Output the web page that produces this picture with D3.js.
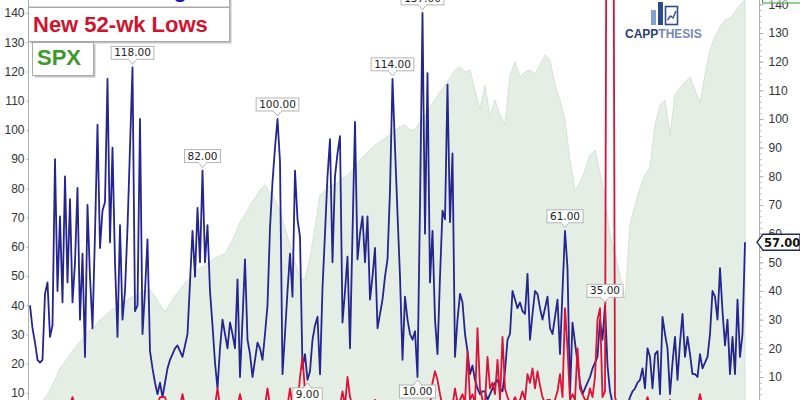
<!DOCTYPE html>
<html><head><meta charset="utf-8">
<script src="https://cdn.jsdelivr.net/npm/d3@7"></script>
<style>html,body{margin:0;padding:0;background:#fff;} svg{display:block;}</style>
</head><body><svg id="c" width="800" height="400"></svg>
<script>
// New 52-week highs (blue), one value per period
const highs = [
35,27,22,16,15,16,39,43,24,28, 86,40,66,36,80,43,72,36,50,76,
30,53,17,70,45,27,60,98,55,68, 71,114,57,90,50,24,63,30,40,62,
90,118,33,35,100,25,40,58,19,13, 8,4,8,3,8,13,16,18,20,21,
19,17,21,25,43,61,45,69,50,82, 50,63,40,28,15,6,20,30,25,20,
29,25,20,44,10,30,51,23,18,10, 16,22,20,16,25,35,62,78,90,100,
85,11,25,40,53,38,82,65,59,13, 18,9,12,23,28,31,11,41,60,80,
93,50,80,88,94,29,40,52,20,60, 99,51,60,66,50,66,37,45,55,27,
32,37,45,51,75,114,90,67,45,16, 38,30,25,23,26,10,70,137,60,116,
43,61,30,18,45,68,65,112,64,88, 17,30,39,36,25,19,11,14,9,6,
4,5,5,2,4,6,8,9,6,5, 12,23,25,40,37,34,36,33,32,46,
23,32,40,39,34,30,34,38,27,25, 31,37,18,40,61,48,4,29,22,15,
8,4,6,8,10,13,15,17,30,23, 35,14,5,1,0,0,0,0,0,0,
3,5,6,8,9,13,6,20,17,6, 18,19,4,31,25,20,4,15,24,9,
22,32,17,24,18,11,11,10,18,13, 15,17,25,40,38,30,48,33,21,30,
11,24,11,37,17,25,57
];
// New 52-week lows (red)
const lows = [
0,0,0,0,0,0,0,0,0,0, 0,0,0,0,0,0,0,3,0,0,
0,0,0,0,0,0,0,0,0,0, 0,0,0,0,0,0,0,0,0,0,
0,0,0,0,0,0,0,0,0,0, 0,0,3,3,3,0,0,0,0,0,
0,4,0,0,0,0,0,0,0,0, 0,0,0,0,0,6,0,0,0,0,
0,0,0,0,4,0,0,0,0,0, 0,0,0,0,0,6,0,0,0,0,
0,0,0,0,6,0,0,0,10,17, 5,0,0,0,0,0,0,0,0,0,
0,0,0,0,0,5,0,10,3,0, 0,0,0,0,0,0,0,0,2,0,
0,0,0,0,0,0,0,0,0,0, 0,0,0,0,0,0,0,0,0,0,
0,8,12,9,4,0,0,0,0,0, 6,1,2,4,1,19,2,4,1,27,
6,2,1,17,6,8,4,16,2,24, 6,3,1,1,3,1,2,5,2,11,
8,13,6,12,7,3,1,2,2,1, 2,5,11,3,34,20,2,4,2,20,
6,4,2,2,6,3,10,30,34,3, 5,300,320,290,3,0,0,0,0,0,
0,0,0,0,0,0,0,3,0,0, 0,0,0,0,0,0,2,0,0,0,
0,0,0,0,0,0,0,0,4,0, 0,0,0,0,0,0,0,0,0,0,
0,0,0,0,0,0,0
];
// SPX close (background area)
const spx = [
1810,1822,1838,1858,1890,1930,1978,2002,2030,2058,
2082,2106,2130,2146,2170,2186,2206,2218,2230,2242,
2258,2266,2278,2286,2290,2266,2230,2202,2234,2266,
2290,2318,2338,2362,2378,2390,2402,2418,2426,2434,
2470,2510,2562,2590,2630,2658,2690,2710,2682,2650,
2602,2538,2470,2402,2338,2330,2422,2538,2670,2690,
2710,2710,2730,2742,2758,2782,2810,2830,2850,2870,
2882,2898,2910,2930,2942,2950,2930,2930,2962,2990,
3022,3050,3082,3110,3138,3170,3182,3162,3170,3090,
3010,3110,2982,3050,2990,2950,3150,3202,3142,3162,
3170,3154,3190,3230,3210,3110,3050,2970,2810,2690,
2718,2770,2830,2850,2758,2650,2510,2430,2350,2250,
2550,2630,2698,2750,2782,2950,3030,3050,2910,3070,
3098,3122,3142,3090,3038,3150,3250,3302,3342,3370,
3378,3402,3430,3450
];
const leftTicks = [10,20,30,40,50,60,70,80,90,100,110,120,130,140];
const rightTicks = [10,20,30,40,50,60,70,80,90,100,110,120,130,140];
const peakIdx = [41,69,99,145,157,214,230];
const troughIdx = [111,155];
const legendNames = ["New 52-wk Highs","New 52-wk Lows","SPX"];

const svg = d3.select("#c");
const W = 800, H = 400;
const x = d3.scaleLinear().domain([0, highs.length-1]).range([30, 745]);
const xs = d3.scaleLinear().domain([0, spx.length-1]).range([30, 745]);
const yR = d3.scaleLinear().domain([10,140]).range([377, 4.3]);
const yL = d3.scaleLinear().domain([10,140]).range([393, 13]);
const yS = d3.scaleLinear().domain([1850,3450]).range([400, 0]);

// SPX area
svg.append("path").datum(spx)
  .attr("d", d3.area().x((d,i)=>xs(i)).y0(yS(1750)).y1(d=>yS(d)))
  .attr("fill","#e5eee5").attr("stroke","#d6e2d6").attr("stroke-width",1);

// lines
const line = d3.line().x((d,i)=>x(i)).y(d=>yR(d));
svg.append("path").datum(highs).attr("d", line)
  .attr("fill","none").attr("stroke","#25258f").attr("stroke-width",1.8).attr("stroke-linejoin","round");
svg.append("path").datum(lows).attr("d", line)
  .attr("fill","none").attr("stroke","#dc1238").attr("stroke-width",1.8).attr("stroke-linejoin","round");

// left axis
const gL = svg.append("g").attr("transform","translate(28.5,0)")
  .call(d3.axisLeft(yL).tickValues(leftTicks).tickSize(2).tickPadding(2));
gL.select(".domain").remove();
gL.append("line").attr("y1",0).attr("y2",H).attr("stroke","#b0b0b0");
gL.selectAll(".tick line").attr("stroke","#b0b0b0");
gL.selectAll("text").attr("fill","#333").style("font","12px 'Liberation Sans', Arial, sans-serif");

// right axis
const gRm = svg.append("g").attr("transform","translate(759.5,0)")
  .call(d3.axisRight(yR).tickValues(d3.range(0,142,2)).tickSize(2).tickFormat(""));
gRm.select(".domain").remove();
gRm.selectAll(".tick line").attr("stroke","#b0b0b0");
const gR = svg.append("g").attr("transform","translate(759.5,0)")
  .call(d3.axisRight(yR).tickValues(rightTicks).tickSize(4).tickPadding(5));
gR.select(".domain").remove();
gR.append("line").attr("y1",0).attr("y2",H).attr("stroke","#b0b0b0");
gR.selectAll(".tick line").attr("stroke","#b0b0b0");
gR.selectAll("text").attr("fill","#333").style("font","12px 'Liberation Sans', Arial, sans-serif");

// top-right SPX marker (cut off)
svg.append("rect").attr("x",762.5).attr("y",-12).attr("width",40).attr("height",15)
  .attr("fill","#eef5ee").attr("fill-opacity",0.6).attr("stroke","#3c963c");

// logo
const logo = svg.append("g");
logo.append("rect").attr("x",651).attr("y",10).attr("width",5).attr("height",15).attr("fill","#7fa3d9");
logo.append("rect").attr("x",658).attr("y",2).attr("width",5).attr("height",23).attr("fill","#2d4a8c");
logo.append("rect").attr("x",665.5).attr("y",6.5).attr("width",12).attr("height",18).attr("fill","#fff").attr("stroke","#2d4a8c").attr("stroke-width",1.6);
logo.append("polyline").attr("points","667.5,20 670.5,16 673,18 676,11").attr("fill","none").attr("stroke","#2d4a8c").attr("stroke-width",1.4);
const lt = logo.append("text").attr("x",625).attr("y",38).style("font","bold 12px 'Liberation Sans', Arial, sans-serif");
lt.append("tspan").attr("fill","#2f3d70").text("CAPP");
lt.append("tspan").attr("fill","#7488b6").text("THESIS");

// legend boxes
const legendColors = ["#1c1ca6","#d0132f","#3c9a2c"];
const boxes = [[28.5,-30,201,37],[28.5,7.5,201,34],[32.5,42.5,61,33]];
const textPos = [[33,-3],[33,32],[37,65]];
boxes.forEach((b,i)=>{
  svg.append("rect").attr("x",b[0]+2).attr("y",b[1]+2).attr("width",b[2]).attr("height",b[3]).attr("fill","#c4c4c4");
  svg.append("rect").attr("x",b[0]).attr("y",b[1]).attr("width",b[2]).attr("height",b[3]).attr("fill","#fff").attr("stroke","#a8a8a8");
  svg.append("text").attr("x",textPos[i][0]).attr("y",textPos[i][1]).attr("fill",legendColors[i])
    .style("font","bold 22px 'Liberation Sans', Arial, sans-serif").text(legendNames[i]);
});

// value labels
function label(idx, up) {
  const px = x(idx), py = yR(highs[idx]);
  const g = svg.append("g");
  const t = g.append("text").attr("x",px).attr("text-anchor","middle").attr("fill","#222")
    .style("font","10.5px 'DejaVu Sans', Verdana, sans-serif").text(highs[idx].toFixed(2));
  const w = t.node().getComputedTextLength() + 6, h = 13;
  let by, tri;
  if (up) { by = py - 8 - h; tri = [[px-4,py-8],[px+4,py-8],[px,py-3]]; }
  else { by = py + 8; tri = [[px-4,py+8],[px+4,py+8],[px,py+3]]; }
  g.insert("rect","text").attr("x",px-w/2).attr("y",by).attr("width",w).attr("height",h)
    .attr("fill","#fff").attr("stroke","#b4b4b4");
  g.insert("path","text").attr("d","M"+tri.map(p=>p.join(",")).join("L")+"Z").attr("fill","#fff").attr("stroke","#b4b4b4");
  g.insert("rect","text").attr("x",px-3.5).attr("y", up? by+h-1.5 : by-0.5).attr("width",7).attr("height",2.5).attr("fill","#fff");
  t.attr("y", by + 10);
}
peakIdx.forEach(i=>label(i,true));
troughIdx.forEach(i=>label(i,false));

// last value marker on right axis
const last = highs[highs.length-1], ly = yR(last);
svg.append("path").attr("d",`M757,${ly}L763,${ly-8}L800,${ly-8}L800,${ly+8}L763,${ly+8}Z`)
  .attr("fill","#fff").attr("stroke","#1d2a5a").attr("stroke-width",1.3);
svg.append("text").attr("x",764).attr("y",ly+4.5).attr("fill","#111")
  .style("font","bold 11.5px 'DejaVu Sans', Verdana, sans-serif").text(last.toFixed(2));
</script></body></html>
